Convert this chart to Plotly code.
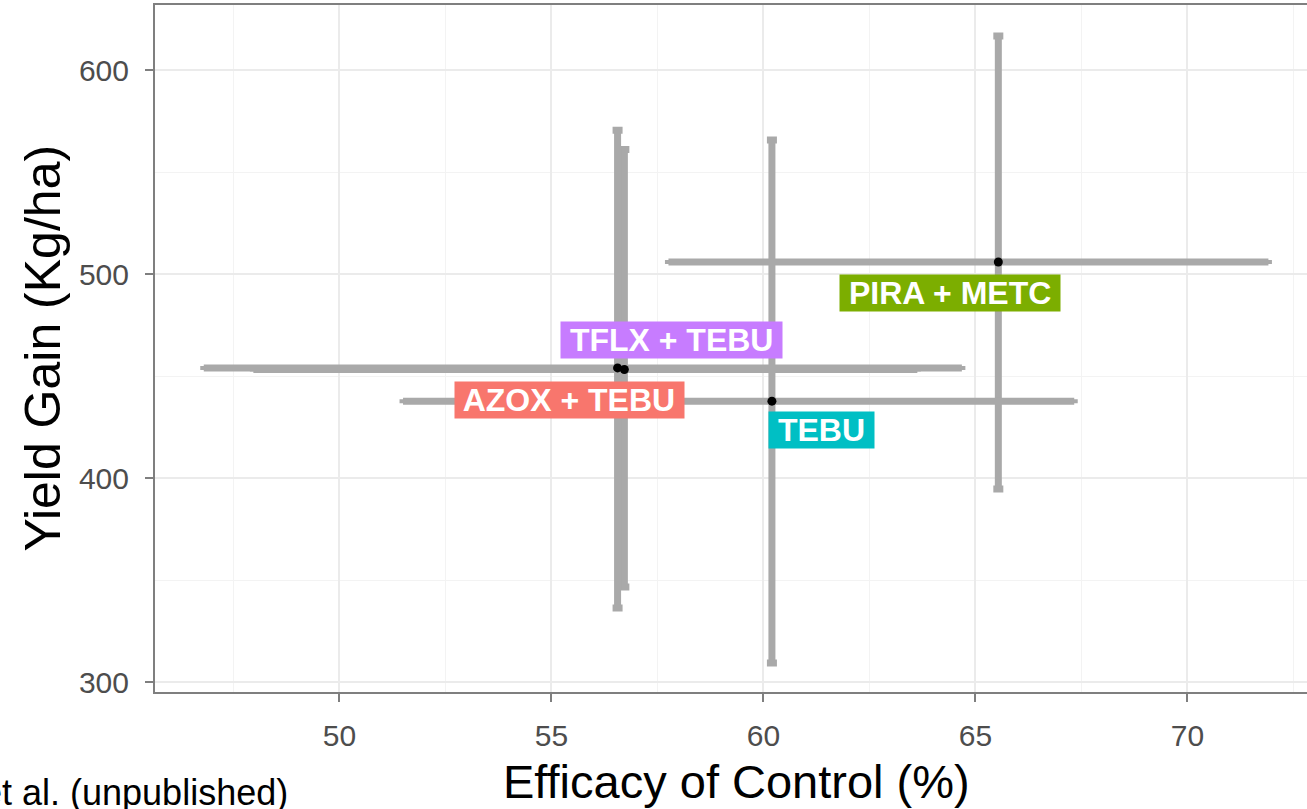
import plotly.graph_objects as go

# ---- data ----
treatments = ["AZOX + TEBU", "PIRA + METC", "TEBU", "TFLX + TEBU"]
efficacy = [56.72, 65.54, 60.20, 56.56]          # % control (point)
efficacy_low = [47.97, 57.76, 51.50, 46.80]
efficacy_high = [63.63, 71.91, 67.33, 64.68]
yield_gain = [453.2, 505.9, 437.7, 454.0]         # kg/ha (point)
yield_low = [346.6, 394.6, 309.3, 336.3]
yield_high = [561.0, 616.7, 565.7, 570.5]
label_colors = ["#F8766D", "#7CAE00", "#00BFC4", "#C77CFF"]

x_ticks = [50, 55, 60, 65, 70]
y_ticks = [300, 400, 500, 600]

# repelled label anchor points (data coordinates)
label_x = [55.42, 64.39, 61.37, 57.83]
label_y = [438.2, 490.7, 423.5, 467.6]

err_x_plus = [h - c for h, c in zip(efficacy_high, efficacy)]
err_x_minus = [c - l for l, c in zip(efficacy_low, efficacy)]
err_y_plus = [h - c for h, c in zip(yield_high, yield_gain)]
err_y_minus = [c - l for l, c in zip(yield_low, yield_gain)]

fig = go.Figure()
fig.add_trace(go.Scatter(
    x=efficacy, y=yield_gain, mode="markers",
    marker=dict(color="black", size=9),
    error_x=dict(type="data", symmetric=False, array=err_x_plus,
                 arrayminus=err_x_minus, color="#A9A9A9", thickness=7, width=2),
    error_y=dict(type="data", symmetric=False, array=err_y_plus,
                 arrayminus=err_y_minus, color="#A9A9A9", thickness=7, width=5),
    showlegend=False, hoverinfo="skip",
))

for name, lx, ly, col in zip(treatments, label_x, label_y, label_colors):
    fig.add_annotation(
        x=lx, y=ly, xref="x", yref="y", text=" " + name + " ", showarrow=False,
        bgcolor=col, borderpad=0,
        font=dict(family="Liberation Sans, Arial, sans-serif", size=32,
                  color="white", weight="bold"),
    )

# axis titles and caption
fig.add_annotation(x=0.505, y=-0.131, xref="paper", yref="paper",
                   text="Efficacy of Control (%)", showarrow=False,
                   xanchor="center", yanchor="middle",
                   font=dict(family="Liberation Sans, Arial, sans-serif", size=47, color="black"))
fig.add_annotation(x=-0.098, y=0.5, xref="paper", yref="paper",
                   text="Yield Gain (Kg/ha)", showarrow=False, textangle=-90,
                   xanchor="center", yanchor="middle",
                   font=dict(family="Liberation Sans, Arial, sans-serif", size=50, color="black"))
fig.add_annotation(x=0.117, y=-0.147, xref="paper", yref="paper",
                   text="et al. (unpublished)", showarrow=False,
                   xanchor="right", yanchor="middle",
                   font=dict(family="Liberation Sans, Arial, sans-serif", size=36, color="black"))

axis_common = dict(
    showgrid=True, gridcolor="#EBEBEB", gridwidth=1.5,
    zeroline=False, showline=True, linecolor="#7F7F7F", linewidth=2,
    ticks="outside", ticklen=8, tickwidth=2, tickcolor="#7F7F7F",
    tickfont=dict(family="Liberation Sans, Arial, sans-serif", size=30, color="#4D4D4D"),
)

fig.update_xaxes(
    **axis_common, range=[45.65, 72.82], tickvals=x_ticks, mirror=True,
    ticklabelstandoff=8,
    minor=dict(tick0=47.5, dtick=5, showgrid=True, gridcolor="#F3F3F3", gridwidth=1.2, ticklen=0),
)
fig.update_yaxes(
    **axis_common, range=[295.1, 631.9], tickvals=y_ticks, mirror=False,
    ticklabelstandoff=10,
    minor=dict(tick0=350, dtick=100, showgrid=True, gridcolor="#F3F3F3", gridwidth=1.2, ticklen=0),
)

fig.update_layout(
    width=1307, height=809,
    margin=dict(l=155, r=0, t=5, b=117),
    paper_bgcolor="white", plot_bgcolor="white",
    showlegend=False,
)

fig.write_html("out.html")
